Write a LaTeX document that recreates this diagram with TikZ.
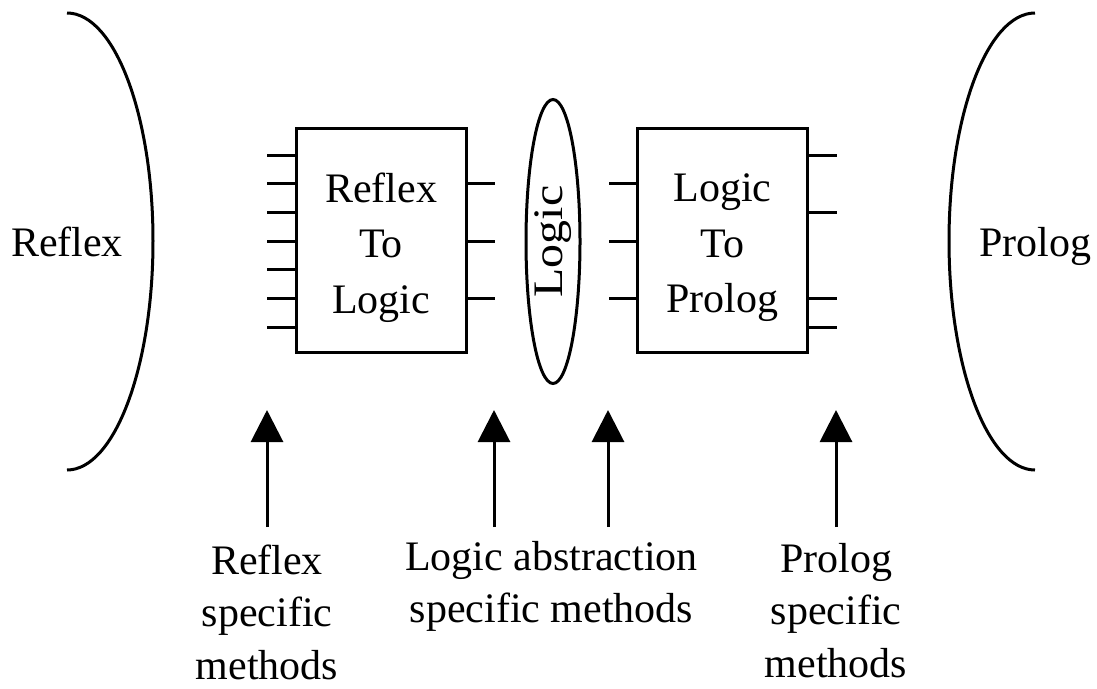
\documentclass[tikz,border=0pt]{standalone}
\usepackage{fontspec}
\usepackage{graphicx}
\setmainfont{Liberation Serif}
\usetikzlibrary{arrows.meta,shapes.geometric,calc}
\begin{document}
\begin{tikzpicture}[x=1pt,y=-1pt,
  every node/.style={font=\fontsize{42}{55.5}\selectfont, inner sep=0pt, outer sep=0pt},
  ln/.style={line width=3pt},
  chip/.style={draw, ln, rectangle, minimum width=170pt, minimum height=224pt},
  chiptext/.style={align=center},
  arr/.style={ln, -{Triangle[length=32pt,width=32pt]}},
  lbl/.style={align=center, font=\fontsize{42}{52.5}\selectfont, anchor=north},
]
\useasboundingbox (0,0) rectangle (1097,688);

% side brackets
\draw[ln] (67,13) .. controls (114.5,13) and (153,115) .. (153,241)
          .. controls (153,367) and (114.5,470) .. (67,470);
\draw[ln] (1035,13) .. controls (987.5,13) and (949,115) .. (949,241)
          .. controls (949,367) and (987.5,470) .. (1035,470);
\node[anchor=base] (reflex) at (67,256) {Reflex};
\node[anchor=base] (prolog) at (1035,256) {Prolog};

% chips
\node[chip] (r2l) at (381,240) {};
\node[chiptext] (r2lt) at (381,247.7) {Reflex\\To\\Logic};
\node[chip] (l2p) at (722.5,240) {};
\node[chiptext] (l2pt) at (722.5,247.7) {Logic\\To\\Prolog};

% pins
\foreach \k in {0,...,6}
  \draw[ln] ($(r2l.north west)+(0,27+28.67*\k)$) -- ++(-29,0);
\foreach \k in {1,3,5}
  \draw[ln] ($(r2l.north east)+(0,27+28.67*\k)$) -- ++(29,0);
\foreach \k in {1,3,5}
  \draw[ln] ($(l2p.north west)+(0,27+28.67*\k)$) -- ++(-29,0);
\foreach \k in {0,2,5,6}
  \draw[ln] ($(l2p.north east)+(0,27+28.67*\k)$) -- ++(29,0);

% logic ellipse
\node[draw, ln, ellipse, rotate=90, minimum width=284pt, minimum height=54pt] (logic) at (553,241.5) {\scalebox{1.14}[1]{Logic}};

% arrows
\coordinate (a1t) at (267,410); \coordinate (a1b) at (267,527);
\coordinate (a2t) at (494,410); \coordinate (a2b) at (494,527);
\coordinate (a3t) at (608,410); \coordinate (a3b) at (608,527);
\coordinate (a4t) at (836,410); \coordinate (a4b) at (836,527);
\draw[arr] (a1b) -- (a1t);
\draw[arr] (a2b) -- (a2t);
\draw[arr] (a3b) -- (a3t);
\draw[arr] (a4b) -- (a4t);

% labels
\node[lbl] (lrs) at (267,544.6) {Reflex\\specific\\methods};
\node[lbl] (lla) at (551.5,541.3) {Logic abstraction\\specific methods};
\node[lbl] (lps) at (836,543) {Prolog\\specific\\methods};
\end{tikzpicture}
\end{document}
